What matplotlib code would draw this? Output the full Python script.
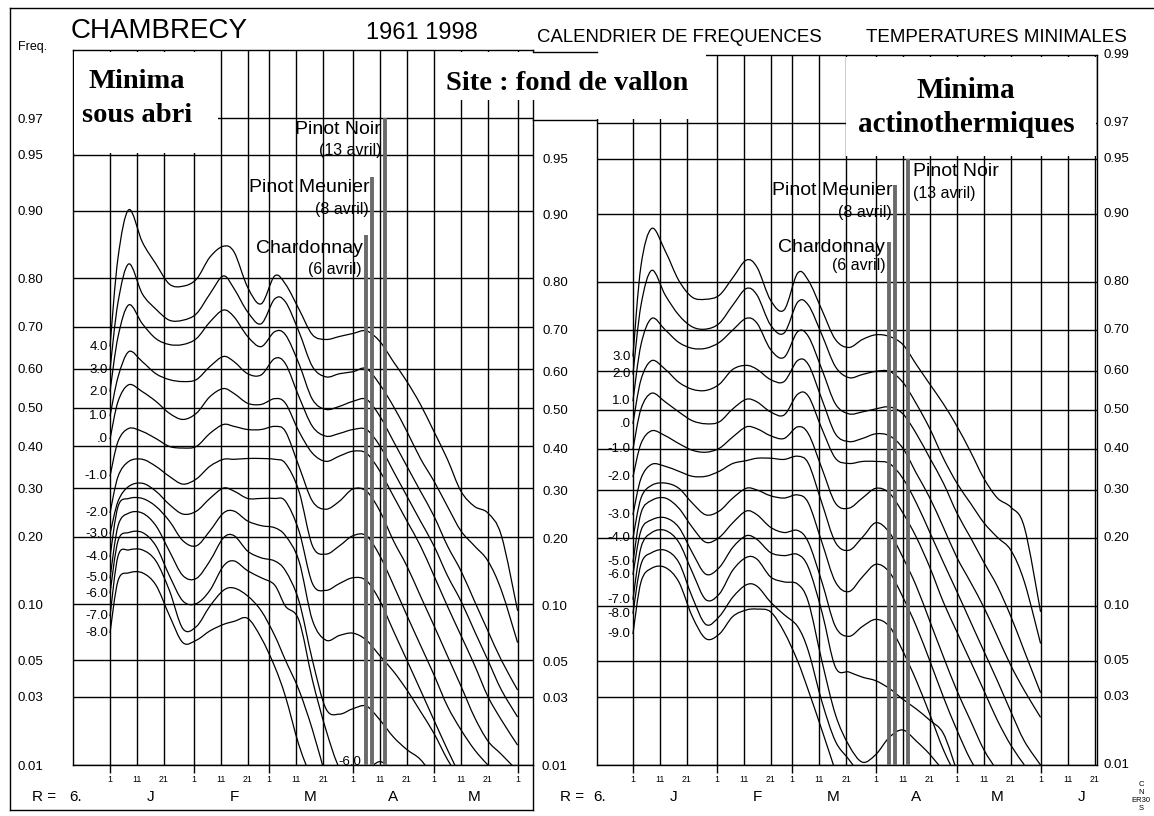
import math
import numpy as np
import matplotlib
matplotlib.use("Agg")
import matplotlib.pyplot as plt
from matplotlib.lines import Line2D
from matplotlib.patches import Rectangle, PathPatch
from matplotlib.path import Path
from matplotlib.ticker import NullLocator

plt.rcParams['font.family'] = ['Liberation Sans', 'DejaVu Sans']

# ---- data (day 0 = 1 January) ----
days = [0, 3, 7, 12, 17, 22, 27, 32, 37, 42, 46, 51, 56, 61, 65, 70, 75, 80,
        85, 90, 95, 100, 105, 110, 115, 120, 125, 130, 135, 140, 145, 151]

# Minima sous abri : frequency of Tmin <= threshold
left_labels = ["4.0", "3.0", "2.0", "1.0", ".0", "-1.0", "-2.0", "-3.0",
               "-4.0", "-5.0", "-6.0", "-7.0", "-8.0"]
left_freqs = [
    [0.654, 0.836, 0.901, 0.859, 0.825, 0.789, 0.785, 0.798, 0.836, 0.853, 0.844, 0.783, 0.750, 0.804, 0.789, 0.739,
     0.682, 0.671, 0.678, 0.685, 0.691, 0.666, 0.617, 0.567, 0.508, 0.438, 0.368, 0.293, 0.260, 0.246, 0.202, 0.093],
    [0.597, 0.754, 0.825, 0.770, 0.739, 0.715, 0.715, 0.729, 0.770, 0.804, 0.780, 0.733, 0.707, 0.760, 0.754, 0.689,
     0.605, 0.579, 0.587, 0.592, 0.600, 0.559, 0.503, 0.438, 0.370, 0.316, 0.260, 0.211, 0.184, 0.159, 0.117, 0.063],
    [0.541, 0.678, 0.748, 0.707, 0.673, 0.659, 0.659, 0.673, 0.711, 0.737, 0.722, 0.678, 0.654, 0.689, 0.682, 0.612,
     0.521, 0.495, 0.503, 0.516, 0.521, 0.477, 0.413, 0.351, 0.293, 0.240, 0.184, 0.144, 0.104, 0.073, 0.050, 0.033],
    [0.477, 0.579, 0.642, 0.617, 0.587, 0.572, 0.567, 0.572, 0.605, 0.630, 0.617, 0.587, 0.584, 0.625, 0.612, 0.528,
     0.451, 0.426, 0.433, 0.443, 0.443, 0.401, 0.339, 0.282, 0.230, 0.184, 0.137, 0.104, 0.073, 0.050, 0.033, 0.022],
    [0.418, 0.516, 0.559, 0.541, 0.516, 0.485, 0.469, 0.485, 0.528, 0.549, 0.536, 0.511, 0.508, 0.523, 0.511, 0.438,
     0.383, 0.363, 0.376, 0.388, 0.383, 0.339, 0.282, 0.230, 0.184, 0.137, 0.098, 0.069, 0.047, 0.030, 0.021, 0.014],
    [0.327, 0.413, 0.446, 0.438, 0.420, 0.400, 0.396, 0.400, 0.433, 0.456, 0.451, 0.443, 0.443, 0.451, 0.438, 0.351,
     0.271, 0.254, 0.271, 0.298, 0.293, 0.250, 0.193, 0.151, 0.110, 0.078, 0.053, 0.035, 0.022, 0.015, 0.012, 0.009],
    [0.246, 0.327, 0.363, 0.368, 0.351, 0.327, 0.309, 0.321, 0.351, 0.368, 0.368, 0.370, 0.370, 0.368, 0.358, 0.293,
     0.184, 0.170, 0.184, 0.202, 0.202, 0.167, 0.124, 0.088, 0.061, 0.041, 0.026, 0.018, 0.013, 0.010, 0.008],
    [0.205, 0.271, 0.304, 0.311, 0.293, 0.264, 0.244, 0.250, 0.277, 0.300, 0.293, 0.277, 0.277, 0.277, 0.271, 0.211,
     0.126, 0.117, 0.126, 0.134, 0.130, 0.104, 0.073, 0.050, 0.033, 0.021, 0.013, 0.008],
    [0.165, 0.260, 0.277, 0.277, 0.260, 0.230, 0.193, 0.184, 0.211, 0.246, 0.250, 0.230, 0.221, 0.217, 0.202, 0.159,
     0.083, 0.065, 0.069, 0.071, 0.065, 0.053, 0.043, 0.033, 0.024, 0.017, 0.011, 0.0075],
    [0.133, 0.221, 0.246, 0.246, 0.221, 0.175, 0.137, 0.133, 0.159, 0.198, 0.202, 0.175, 0.164, 0.159, 0.144, 0.104,
     0.050, 0.025, 0.023, 0.025, 0.026, 0.021, 0.016, 0.013, 0.011, 0.008],
    [0.113, 0.193, 0.208, 0.208, 0.184, 0.137, 0.104, 0.101, 0.117, 0.151, 0.159, 0.144, 0.134, 0.124, 0.098, 0.083,
     0.038, 0.018, 0.0095, 0.008, 0.009, 0.0106, 0.009],
    [0.087, 0.167, 0.177, 0.177, 0.159, 0.117, 0.075, 0.077, 0.098, 0.117, 0.120, 0.110, 0.093, 0.069, 0.050, 0.033,
     0.018, 0.008],
    [0.071, 0.130, 0.141, 0.141, 0.124, 0.088, 0.063, 0.065, 0.073, 0.079, 0.082, 0.085, 0.067, 0.046, 0.030, 0.014,
     0.0075],
]

# Minima actinothermiques
right_labels = ["3.0", "2.0", "1.0", ".0", "-1.0", "-2.0", "-3.0", "-4.0",
                "-5.0", "-6.0", "-7.0", "-8.0", "-9.0"]
right_freqs = [
    [0.637, 0.828, 0.883, 0.851, 0.802, 0.770, 0.766, 0.774, 0.807, 0.837, 0.825, 0.764, 0.744, 0.815, 0.802, 0.744,
     0.678, 0.659, 0.678, 0.689, 0.685, 0.666, 0.617, 0.567, 0.516, 0.458, 0.393, 0.327, 0.282, 0.262, 0.221, 0.093],
    [0.592, 0.754, 0.820, 0.774, 0.733, 0.707, 0.702, 0.715, 0.754, 0.787, 0.774, 0.711, 0.693, 0.760, 0.754, 0.689,
     0.612, 0.584, 0.592, 0.600, 0.600, 0.572, 0.516, 0.451, 0.376, 0.316, 0.271, 0.230, 0.202, 0.179, 0.130, 0.063],
    [0.523, 0.666, 0.726, 0.700, 0.671, 0.657, 0.657, 0.671, 0.700, 0.726, 0.715, 0.654, 0.635, 0.696, 0.685, 0.605,
     0.516, 0.490, 0.495, 0.503, 0.508, 0.490, 0.438, 0.376, 0.316, 0.250, 0.202, 0.159, 0.124, 0.088, 0.057, 0.032],
    [0.464, 0.579, 0.627, 0.605, 0.572, 0.554, 0.551, 0.567, 0.605, 0.615, 0.605, 0.579, 0.574, 0.627, 0.617, 0.528,
     0.438, 0.418, 0.426, 0.438, 0.433, 0.401, 0.339, 0.282, 0.221, 0.167, 0.130, 0.098, 0.069, 0.047, 0.033, 0.022],
    [0.398, 0.503, 0.544, 0.521, 0.495, 0.472, 0.464, 0.469, 0.503, 0.528, 0.521, 0.495, 0.487, 0.541, 0.536, 0.451,
     0.376, 0.363, 0.368, 0.368, 0.363, 0.327, 0.271, 0.211, 0.159, 0.117, 0.083, 0.057, 0.038, 0.024, 0.015, 0.010],
    [0.330, 0.413, 0.446, 0.433, 0.413, 0.396, 0.391, 0.401, 0.430, 0.456, 0.451, 0.433, 0.426, 0.456, 0.438, 0.351,
     0.271, 0.260, 0.282, 0.304, 0.293, 0.250, 0.202, 0.151, 0.104, 0.073, 0.050, 0.033, 0.021, 0.014, 0.010],
    [0.246, 0.327, 0.361, 0.356, 0.344, 0.332, 0.332, 0.344, 0.363, 0.370, 0.376, 0.376, 0.373, 0.381, 0.363, 0.271,
     0.193, 0.179, 0.202, 0.230, 0.211, 0.167, 0.124, 0.083, 0.053, 0.033, 0.021, 0.013, 0.009],
    [0.200, 0.282, 0.311, 0.316, 0.304, 0.271, 0.246, 0.254, 0.282, 0.304, 0.300, 0.287, 0.282, 0.289, 0.271, 0.193,
     0.130, 0.117, 0.137, 0.156, 0.144, 0.110, 0.078, 0.050, 0.030, 0.018, 0.011, 0.0075],
    [0.159, 0.250, 0.277, 0.282, 0.260, 0.221, 0.193, 0.202, 0.230, 0.254, 0.246, 0.221, 0.211, 0.215, 0.193, 0.130,
     0.078, 0.069, 0.078, 0.085, 0.078, 0.057, 0.038, 0.023, 0.013, 0.008],
    [0.140, 0.215, 0.236, 0.240, 0.221, 0.175, 0.141, 0.151, 0.184, 0.205, 0.198, 0.175, 0.170, 0.172, 0.151, 0.093,
     0.046, 0.043, 0.040, 0.038, 0.034, 0.029, 0.025, 0.021, 0.017, 0.009],
    [0.107, 0.184, 0.211, 0.215, 0.193, 0.144, 0.107, 0.114, 0.147, 0.167, 0.164, 0.137, 0.130, 0.127, 0.104, 0.050,
     0.023, 0.014, 0.0105, 0.012, 0.016, 0.018, 0.015, 0.012, 0.009],
    [0.091, 0.156, 0.175, 0.179, 0.159, 0.110, 0.080, 0.088, 0.110, 0.126, 0.124, 0.104, 0.090, 0.078, 0.057, 0.028,
     0.015, 0.011, 0.008],
    [0.071, 0.130, 0.150, 0.151, 0.130, 0.088, 0.067, 0.071, 0.088, 0.095, 0.096, 0.093, 0.073, 0.050, 0.033, 0.018,
     0.009],
]

# budbreak dates
cepages = ["Chardonnay", "Pinot Meunier", "Pinot Noir"]
cepage_dates = ["(6 avril)", "(8 avril)", "(13 avril)"]
cepage_days = [95, 97, 102]
left_bar_tops = [0.869, 0.933, 0.970]
right_bar_tops = [0.865, 0.930, 0.950]

freq_ticks = [0.01, 0.03, 0.05, 0.10, 0.20, 0.30, 0.40, 0.50, 0.60, 0.70, 0.80, 0.90, 0.95, 0.97, 0.99]
month_starts = [0, 31, 59, 90, 120, 151]
month_letters = ["J", "F", "M", "A", "M", "J"]


# normal probability (probit) scale
def probit(p):
    p = np.clip(np.asarray(p, dtype=float), 1e-9, 1 - 1e-9)
    a = [-3.969683028665376e+01, 2.209460984245205e+02, -2.759285104469687e+02,
         1.383577518672690e+02, -3.066479806614716e+01, 2.506628277459239e+00]
    b = [-5.447609879822406e+01, 1.615858368580409e+02, -1.556989798598866e+02,
         6.680131188771972e+01, -1.328068155288572e+01]
    c = [-7.784894002430293e-03, -3.223964580411365e-01, -2.400758277161838e+00,
         -2.549732539343734e+00, 4.374664141464968e+00, 2.938163982698783e+00]
    d = [7.784695709041462e-03, 3.224671290700398e-01, 2.445134137142996e+00,
         3.754408661907416e+00]
    with np.errstate(all='ignore'):
        q = np.sqrt(-2 * np.log(np.minimum(p, 1 - p)))
        tail = (((((c[0]*q + c[1])*q + c[2])*q + c[3])*q + c[4])*q + c[5]) / \
               ((((d[0]*q + d[1])*q + d[2])*q + d[3])*q + 1)
        r = (p - 0.5) ** 2
        mid = (((((a[0]*r + a[1])*r + a[2])*r + a[3])*r + a[4])*r + a[5]) * (p - 0.5) / \
              (((((b[0]*r + b[1])*r + b[2])*r + b[3])*r + b[4])*r + 1)
    return np.where(p < 0.02425, tail, np.where(p > 1 - 0.02425, -tail, mid))


_erf = np.vectorize(math.erf, otypes=[float])


def probit_inv(z):
    z = np.asarray(z, dtype=float)
    return 0.5 * (1 + _erf(z / math.sqrt(2)))


# smooth curve through the read points (Catmull-Rom drawn as Bezier segments,
# built in probit space so it is smooth on the probability axis)
def smooth_path(xs, ps):
    x = np.asarray(xs, dtype=float)
    z = probit(ps)
    n = len(x)
    verts = [(x[0], ps[0])]
    codes = [Path.MOVETO]
    for i in range(n - 1):
        xa, za = (x[i - 1], z[i - 1]) if i > 0 else (x[i], z[i])
        xb, zb = (x[i + 2], z[i + 2]) if i + 2 < n else (x[i + 1], z[i + 1])
        c1x, c1z = x[i] + (x[i + 1] - xa) / 6, z[i] + (z[i + 1] - za) / 6
        c2x, c2z = x[i + 1] - (xb - x[i]) / 6, z[i + 1] - (zb - z[i]) / 6
        verts += [(c1x, float(probit_inv(c1z))), (c2x, float(probit_inv(c2z))), (x[i + 1], ps[i + 1])]
        codes += [Path.CURVE4] * 3
    return Path(verts, codes)


W, H = 1154, 816
fig = plt.figure(figsize=(W / 100, H / 100), dpi=100)


def fx(x):
    return x / W


def fy(y):
    return 1 - y / H


ax_l = fig.add_axes([fx(73), fy(765), (533 - 73) / W, (765 - 50) / H])
ax_r = fig.add_axes([fx(597), fy(765), (1097 - 597) / W, (765 - 55) / H])


def setup(ax, x0, x1, last_day, ylabels, pad):
    ax.set_yscale('function', functions=(probit, probit_inv))
    ax.set_xlim(x0, x1)
    ax.set_ylim(0.01, 0.99)
    majors = [m for m in month_starts if m <= last_day]
    minors, minor_lbl = [], []
    for m in month_starts:
        for k in (10, 20):
            if m + k <= last_day:
                minors.append(m + k)
                minor_lbl.append(str(k + 1))
    ax.set_xticks(majors)
    ax.set_xticklabels(["1"] * len(majors))
    ax.set_xticks(minors, minor=True)
    ax.set_xticklabels(minor_lbl, minor=True)
    ax.tick_params(axis='x', which='major', length=6, width=1, pad=1.0, labelsize=6.3)
    ax.tick_params(axis='x', which='minor', length=0, pad=7.0, labelsize=6.3)
    ax.set_yticks(freq_ticks[:-1])
    ax.set_yticklabels(ylabels)
    ax.yaxis.set_minor_locator(NullLocator())
    ax.tick_params(axis='y', length=0, pad=pad, labelsize=9.5)
    ax.grid(True, which='both', color='black', lw=1.0)
    for s in ax.spines.values():
        s.set_color('black')
        s.set_linewidth(1.0)
    for lab, m in zip(month_letters, month_starts):
        if m + 15 < x1:
            ax.text(m + 15, -0.045, lab, transform=ax.get_xaxis_transform(),
                    ha='center', va='center', fontsize=11)


setup(ax_l, -13.7, 156.7, 151, ["%.2f" % v for v in freq_ticks[:-1]], 21.5)
setup(ax_r, -13.3, 171.9, 171, ["%.2f" % v for v in freq_ticks[:-2]] + [""], 21)

for ax, labels, freqs in [(ax_l, left_labels, left_freqs), (ax_r, right_labels, right_freqs)]:
    for lab, vals in zip(labels, freqs):
        ax.add_patch(PathPatch(smooth_path(days[:len(vals)], vals), facecolor='none',
                               edgecolor='black', lw=0.9, zorder=3))
        ax.text(-0.8, vals[0], lab, ha='right', va='center', fontsize=9.5, zorder=3)

# right-hand frequency labels of the second panel
for v in freq_ticks:
    ax_r.text(1.012, v, "%.2f" % v, transform=ax_r.get_yaxis_transform(),
              ha='left', va='center', fontsize=9.5)

ax_l.text(89, 0.0106, "-6.0", ha='center', va='center', fontsize=9.5, zorder=2)

bar_color = '#6a6a6a'
for ax, tops in [(ax_l, left_bar_tops), (ax_r, right_bar_tops)]:
    for dd, top in zip(cepage_days, tops):
        ax.vlines(dd, 0.01, top, colors=bar_color, lw=2.8, zorder=4)

# cultivar labels, left panel
ax_l.text(100.2, 0.965, cepages[2], ha='right', va='center', fontsize=14, zorder=5)
ax_l.text(100.7, 0.9527, cepage_dates[2], ha='right', va='center', fontsize=11.5, zorder=5)
ax_l.text(96.0, 0.924, cepages[1], ha='right', va='center', fontsize=14, zorder=5)
ax_l.text(96.0, 0.901, cepage_dates[1], ha='right', va='center', fontsize=11.5, zorder=5)
ax_l.text(93.7, 0.850, cepages[0], ha='right', va='center', fontsize=14, zorder=5)
ax_l.text(93.3, 0.816, cepage_dates[0], ha='right', va='center', fontsize=11.5, zorder=5)
# cultivar labels, right panel
ax_r.text(103.7, 0.941, cepages[2], ha='left', va='center', fontsize=14, zorder=5)
ax_r.text(103.7, 0.922, cepage_dates[2], ha='left', va='center', fontsize=11.5, zorder=5)
ax_r.text(96.3, 0.925, cepages[1], ha='right', va='center', fontsize=14, zorder=5)
ax_r.text(95.9, 0.902, cepage_dates[1], ha='right', va='center', fontsize=11.5, zorder=5)
ax_r.text(93.3, 0.857, cepages[0], ha='right', va='center', fontsize=14, zorder=5)
ax_r.text(93.7, 0.828, cepage_dates[0], ha='right', va='center', fontsize=11.5, zorder=5)

# white title boxes over the grid
for (x0, y0, x1, y1) in [(74, 52, 218, 153), (436, 52, 706, 100), (594, 57, 706, 119), (846, 57, 1096, 156)]:
    fig.add_artist(Rectangle((fx(x0), fy(y1)), (x1 - x0) / W, (y1 - y0) / H,
                             facecolor='white', edgecolor='none', zorder=1))

serif = ['Liberation Serif', 'DejaVu Serif']
fig.text(fx(137), fy(82), "Minima", ha='center', va='center', fontsize=20.5,
         fontweight='bold', family=serif, zorder=3)
fig.text(fx(137), fy(115), "sous abri", ha='center', va='center', fontsize=20.5,
         fontweight='bold', family=serif, zorder=3)
fig.text(fx(567), fy(84), "Site : fond de vallon", ha='center', va='center', fontsize=20.5,
         fontweight='bold', family=serif, zorder=3)
fig.text(fx(966), fy(90), "Minima", ha='center', va='center', fontsize=21,
         fontweight='bold', family=serif, zorder=3)
fig.text(fx(966), fy(125), "actinothermiques", ha='center', va='center', fontsize=21,
         fontweight='bold', family=serif, zorder=3)

# header
fig.text(fx(71), fy(31), "CHAMBRECY", ha='left', va='center', fontsize=20)
fig.text(fx(366), fy(33), "1961 1998", ha='left', va='center', fontsize=17)
fig.text(fx(537), fy(37), "CALENDRIER DE FREQUENCES", ha='left', va='center', fontsize=13.4)
fig.text(fx(866), fy(37), "TEMPERATURES MINIMALES", ha='left', va='center', fontsize=13.5)
fig.text(fx(18), fy(47), "Freq.", ha='left', va='center', fontsize=9)

# footer
fig.text(fx(32), fy(797), "R =", ha='left', va='center', fontsize=11)
fig.text(fx(69), fy(797), "6.", ha='left', va='center', fontsize=11)
fig.text(fx(560), fy(797), "R =", ha='left', va='center', fontsize=11)
fig.text(fx(593), fy(797), "6.", ha='left', va='center', fontsize=11)
for s, yy in [("C", 784), ("N", 792), ("ER30", 800), ("S", 808)]:
    fig.text(fx(1141), fy(yy), s, ha='center', va='center', fontsize=5.5)

# outer frame of the left sheet, top rule and 0.97 rule between the panels
for xs, ys in [([10, 10], [8, 810]), ([10, 1154], [8, 8]), ([533, 533], [765, 810]),
               ([10, 533], [810, 810]), ([533, 597], [52, 52]), ([533, 597], [120, 120])]:
    fig.add_artist(Line2D([fx(v) for v in xs], [fy(v) for v in ys], color='black', lw=1.0))

fig.savefig("out.png", dpi=100, facecolor='white')
